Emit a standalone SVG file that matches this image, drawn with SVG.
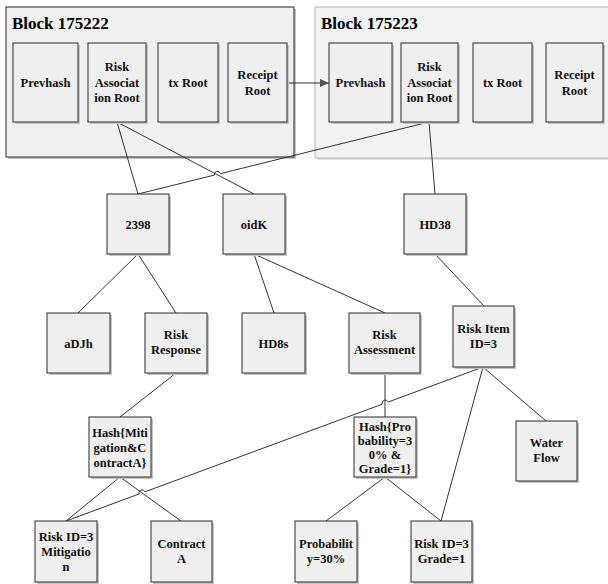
<svg xmlns="http://www.w3.org/2000/svg" width="608" height="584" viewBox="0 0 608 584">
  <style>
    .blk1 { fill: #f0f0f0; stroke: #4a4a4a; stroke-width: 1.2; }
    .blk2 { fill: #f2f2f2; stroke: #b4b4b4; stroke-width: 1; }
    .sh { fill: #c4c4c4; }
    .box { fill: #efefef; stroke: #3c3c3c; stroke-width: 1.1; }
    text { font-family: 'Liberation Serif', 'DejaVu Serif', 'Noto Serif', serif; font-weight: bold; }
    .title { font-size: 17px; fill: #000; }
    .lbl { font-size: 12.5px; fill: #111; text-anchor: middle; }
    .ln { fill: none; stroke: #333; stroke-width: 1; }
  </style>
  <defs>
    <marker id="arrow" markerWidth="10" markerHeight="8" refX="9" refY="4" orient="auto" markerUnits="userSpaceOnUse">
      <path d="M0,0 L9,4 L0,8 Z" fill="#555"/>
    </marker>
  </defs>

  <!-- blocks -->
  <g id="block-175222">
    <rect class="sh" x="8" y="9" width="288" height="150"/>
    <rect class="blk1" x="6" y="7" width="288" height="150"/>
    <text class="title" x="12" y="29">Block 175222</text>
  </g>
  <g id="block-175223">
    <rect class="sh" x="317" y="9" width="300" height="151" opacity="0.5"/>
    <rect class="blk2" x="315" y="7" width="300" height="151"/>
    <text class="title" x="321" y="29">Block 175223</text>
  </g>

  <!-- connectors -->
  <g id="connectors">
    <line class="ln" x1="287" y1="83" x2="329" y2="83" marker-end="url(#arrow)"/>
    <line class="ln" x1="117" y1="122" x2="138" y2="194"/>
    <line class="ln" x1="117" y1="122" x2="254" y2="194"/>
    <!-- Risk Association Root (175223) to 2398, hopping over the line to oidK -->
    <path class="ln" d="M429,122 L220.5,173.6 A3.2,3.2 0 0 0 214.3,175.1 L138,194"/>
    <line class="ln" x1="429" y1="122" x2="435" y2="194"/>
    <line class="ln" x1="138" y1="254" x2="78" y2="313"/>
    <line class="ln" x1="138" y1="254" x2="176" y2="313"/>
    <line class="ln" x1="254" y1="254" x2="274" y2="313"/>
    <line class="ln" x1="254" y1="254" x2="385" y2="313"/>
    <line class="ln" x1="435" y1="254" x2="484" y2="306"/>
    <line class="ln" x1="176" y1="373" x2="120" y2="417"/>
    <line class="ln" x1="385" y1="373" x2="385" y2="417"/>
    <!-- Risk Item to Risk ID=3 Mitigation, hopping over two lines -->
    <path class="ln" d="M483,367 L388.2,402 A3.2,3.2 0 0 0 382.2,404.2 L145,491.8 A3.2,3.2 0 0 0 139,494 L66,521"/>
    <line class="ln" x1="483" y1="367" x2="441" y2="521"/>
    <line class="ln" x1="483" y1="367" x2="546" y2="421"/>
    <line class="ln" x1="120" y1="477" x2="66" y2="521"/>
    <line class="ln" x1="120" y1="477" x2="181" y2="521"/>
    <line class="ln" x1="385" y1="477" x2="326" y2="521"/>
    <line class="ln" x1="385" y1="477" x2="441" y2="521"/>
  </g>

  <!-- block 175222 contents -->
  <g id="prevhash-1">
    <rect class="sh" x="15" y="45" width="65" height="79"/>
    <rect class="box" x="13" y="43" width="65" height="79"/>
    <text class="lbl" x="45.5" y="87">Prevhash</text>
  </g>
  <g id="risk-root-1">
    <rect class="sh" x="90" y="45" width="58" height="79"/>
    <rect class="box" x="88" y="43" width="58" height="79"/>
    <text class="lbl" x="117" y="71">Risk<tspan x="117" dy="15.5">Associat</tspan><tspan x="117" dy="15.5">ion Root</tspan></text>
  </g>
  <g id="tx-root-1">
    <rect class="sh" x="160" y="45" width="60" height="79"/>
    <rect class="box" x="158" y="43" width="60" height="79"/>
    <text class="lbl" x="188" y="87">tx Root</text>
  </g>
  <g id="receipt-root-1">
    <rect class="sh" x="230" y="45" width="59" height="79"/>
    <rect class="box" x="228" y="43" width="59" height="79"/>
    <text class="lbl" x="257.5" y="79">Receipt<tspan x="257.5" dy="15.5">Root</tspan></text>
  </g>

  <!-- block 175223 contents -->
  <g id="prevhash-2">
    <rect class="sh" x="331" y="45" width="63" height="79"/>
    <rect class="box" x="329" y="43" width="63" height="79"/>
    <text class="lbl" x="360.5" y="87">Prevhash</text>
  </g>
  <g id="risk-root-2">
    <rect class="sh" x="403" y="45" width="57" height="79"/>
    <rect class="box" x="401" y="43" width="57" height="79"/>
    <text class="lbl" x="429.5" y="71">Risk<tspan x="429.5" dy="15.5">Associat</tspan><tspan x="429.5" dy="15.5">ion Root</tspan></text>
  </g>
  <g id="tx-root-2">
    <rect class="sh" x="475" y="45" width="59" height="79"/>
    <rect class="box" x="473" y="43" width="59" height="79"/>
    <text class="lbl" x="502.5" y="87">tx Root</text>
  </g>
  <g id="receipt-root-2">
    <rect class="sh" x="548" y="45" width="57" height="79"/>
    <rect class="box" x="546" y="43" width="57" height="79"/>
    <text class="lbl" x="574.5" y="79">Receipt<tspan x="574.5" dy="15.5">Root</tspan></text>
  </g>

  <!-- tree nodes -->
  <g id="n-2398">
    <rect class="sh" x="109" y="196" width="62" height="60"/>
    <rect class="box" x="107" y="194" width="62" height="60"/>
    <text class="lbl" x="138" y="228.5">2398</text>
  </g>
  <g id="n-oidK">
    <rect class="sh" x="225" y="196" width="62" height="60"/>
    <rect class="box" x="223" y="194" width="62" height="60"/>
    <text class="lbl" x="254" y="228.5">oidK</text>
  </g>
  <g id="n-HD38">
    <rect class="sh" x="406" y="196" width="62" height="60"/>
    <rect class="box" x="404" y="194" width="62" height="60"/>
    <text class="lbl" x="435" y="228.5">HD38</text>
  </g>
  <g id="n-aDJh">
    <rect class="sh" x="49" y="315" width="63" height="60"/>
    <rect class="box" x="47" y="313" width="63" height="60"/>
    <text class="lbl" x="78.5" y="347.5">aDJh</text>
  </g>
  <g id="n-risk-response">
    <rect class="sh" x="147" y="315" width="62" height="60"/>
    <rect class="box" x="145" y="313" width="62" height="60"/>
    <text class="lbl" x="176" y="339">Risk<tspan x="176" dy="15">Response</tspan></text>
  </g>
  <g id="n-HD8s">
    <rect class="sh" x="244" y="315" width="63" height="60"/>
    <rect class="box" x="242" y="313" width="63" height="60"/>
    <text class="lbl" x="273.5" y="347.5">HD8s</text>
  </g>
  <g id="n-risk-assessment">
    <rect class="sh" x="351" y="315" width="71" height="60"/>
    <rect class="box" x="349" y="313" width="71" height="60"/>
    <text class="lbl" x="384.5" y="339">Risk<tspan x="384.5" dy="15">Assessment</tspan></text>
  </g>
  <g id="n-risk-item">
    <rect class="sh" x="455" y="308" width="61" height="61"/>
    <rect class="box" x="453" y="306" width="61" height="61"/>
    <text class="lbl" x="483.5" y="333">Risk Item<tspan x="483.5" dy="15">ID=3</tspan></text>
  </g>
  <g id="n-hash-mitigation">
    <rect class="sh" x="91" y="419" width="62" height="60"/>
    <rect class="box" x="89" y="417" width="62" height="60"/>
    <text class="lbl" x="120" y="437">Hash{Miti<tspan x="120" dy="15">gation&amp;C</tspan><tspan x="120" dy="15">ontractA}</tspan></text>
  </g>
  <g id="n-hash-probability">
    <rect class="sh" x="356" y="419" width="62" height="60"/>
    <rect class="box" x="354" y="417" width="62" height="60"/>
    <text class="lbl" x="385" y="431">Hash{Pro<tspan x="385" dy="14">bability=3</tspan><tspan x="385" dy="14">0% &amp;</tspan><tspan x="385" dy="14">Grade=1}</tspan></text>
  </g>
  <g id="n-water-flow">
    <rect class="sh" x="518" y="423" width="61" height="60"/>
    <rect class="box" x="516" y="421" width="61" height="60"/>
    <text class="lbl" x="546.5" y="447">Water<tspan x="546.5" dy="15">Flow</tspan></text>
  </g>
  <g id="n-mitigation">
    <rect class="sh" x="37" y="523" width="62" height="61"/>
    <rect class="box" x="35" y="521" width="62" height="61"/>
    <text class="lbl" x="66" y="541">Risk ID=3<tspan x="66" dy="15">Mitigatio</tspan><tspan x="66" dy="15">n</tspan></text>
  </g>
  <g id="n-contract-a">
    <rect class="sh" x="153" y="523" width="61" height="61"/>
    <rect class="box" x="151" y="521" width="61" height="61"/>
    <text class="lbl" x="181.5" y="548">Contract<tspan x="181.5" dy="15">A</tspan></text>
  </g>
  <g id="n-probability">
    <rect class="sh" x="297" y="523" width="62" height="61"/>
    <rect class="box" x="295" y="521" width="62" height="61"/>
    <text class="lbl" x="326" y="548">Probabilit<tspan x="326" dy="15">y=30%</tspan></text>
  </g>
  <g id="n-grade">
    <rect class="sh" x="413" y="523" width="61" height="61"/>
    <rect class="box" x="411" y="521" width="61" height="61"/>
    <text class="lbl" x="441.5" y="548">Risk ID=3<tspan x="441.5" dy="15">Grade=1</tspan></text>
  </g>
</svg>
